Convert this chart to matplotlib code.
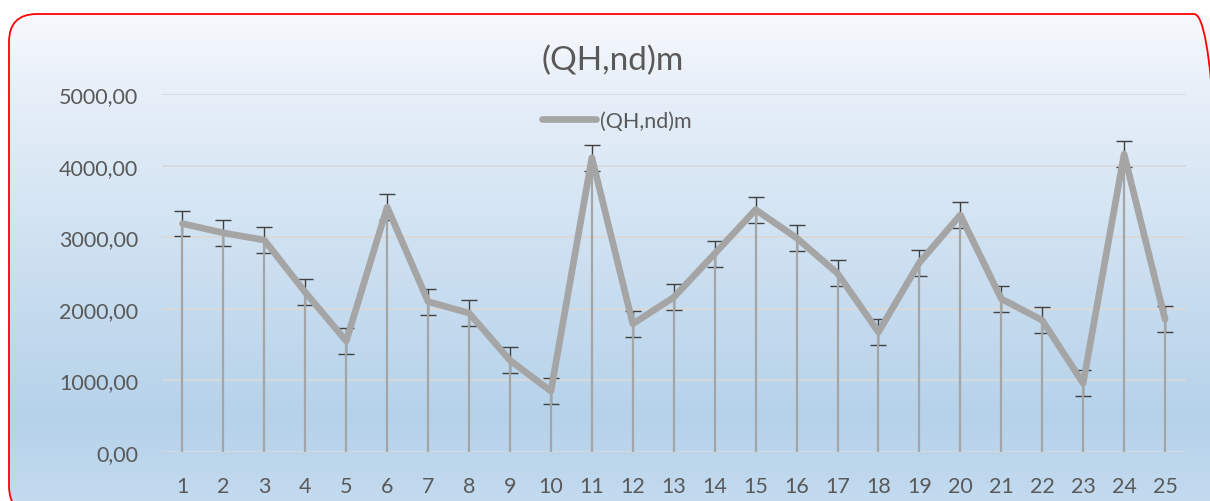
import numpy as np
import matplotlib
matplotlib.use("Agg")
import matplotlib.pyplot as plt
from matplotlib.patches import FancyBboxPatch
from matplotlib.colors import LinearSegmentedColormap

# ---------------------------------------------------------------- data
categories = list(range(1, 25 + 1))
qh_nd_m = [3190, 3060, 2960, 2230, 1550, 3420, 2100, 1940, 1280, 850,
           4110, 1790, 2160, 2770, 3385, 2990, 2495, 1675, 2645, 3310,
           2140, 1840, 960, 4160, 1855]
err = [180] * 25
y_ticks = [0, 1000, 2000, 3000, 4000, 5000]
y_labels = ["0,00", "1000,00", "2000,00", "3000,00", "4000,00", "5000,00"]
title = "(QH,nd)m"

# ---------------------------------------------------------------- figure
W, H = 1210, 502
fig = plt.figure(figsize=(W / 100, H / 100), dpi=100)
fig.patch.set_facecolor("white")
font = "Lato"
txt = "#595959"
gray = "#a5a5a5"

# background panel (rounded, gradient, red border), in pixel coords
bg = fig.add_axes([0, 0, 1, 1], zorder=0)
bg.set_xlim(0, W)
bg.set_ylim(0, H)
bg.axis("off")
x0, y0, x1, y1 = 9, H - 515, 1222, H - 15
panel = FancyBboxPatch((x0, y0), x1 - x0, y1 - y0,
                       boxstyle="round,pad=0,rounding_size=28",
                       facecolor="none", edgecolor="#ff0000", linewidth=1.3, zorder=3)
bg.add_patch(panel)
cmap = LinearSegmentedColormap.from_list(
    "bg", [(0.0, "#f7f9fd"), (0.17, "#e6eef8"), (0.37, "#d6e6f4"),
           (0.57, "#c7dcef"), (0.81, "#b5d2ea"), (1.0, "#c6dcf0")])
grad = np.linspace(0, 1, 256).reshape(-1, 1)
im = bg.imshow(grad, cmap=cmap, aspect="auto", extent=(x0, x1, y0, y1),
               origin="upper", zorder=1)
clip = FancyBboxPatch((x0, y0), x1 - x0, y1 - y0,
                      boxstyle="round,pad=0,rounding_size=28",
                      facecolor="none", edgecolor="none", transform=bg.transData)
im.set_clip_path(clip)

# ---------------------------------------------------------------- main axes
ax = fig.add_axes([162 / W, (H - 453) / H, (1185.5 - 162) / W, (453 - 95) / H], zorder=1)
ax.patch.set_alpha(0)
ax.set_xlim(0.5, 25.5)
ax.set_ylim(0, 5000)
for s in ax.spines.values():
    s.set_visible(False)
ax.set_yticks(y_ticks)
ax.set_yticklabels(y_labels)
ax.set_xticks(categories)
ax.set_xticklabels([str(c) for c in categories])
ax.tick_params(axis="both", length=0, labelcolor=txt, labelsize=15.5)
ax.tick_params(axis="y", pad=17)
ax.tick_params(axis="x", pad=17)
for lab in ax.get_xticklabels() + ax.get_yticklabels():
    lab.set_fontfamily(font)
ax.grid(axis="y", color="#d9d9d9", linewidth=1.3, zorder=0)
ax.set_axisbelow(True)

# error bars, drop lines, main line
ax.errorbar(categories, qh_nd_m, yerr=err, fmt="none", ecolor="#404040",
            elinewidth=1.0, capsize=6, capthick=1.0, zorder=2)
ax.vlines(categories, 0, qh_nd_m, colors=gray, linewidth=1.6, zorder=3)
ax.plot(categories, qh_nd_m, color=gray, linewidth=4.8, solid_joinstyle="round",
        solid_capstyle="round", zorder=4, label=title)

fig.text(613 / W, (H - 61) / H, title, ha="center", va="center",
         fontsize=24, color=txt, fontfamily=font)

leg = ax.legend(loc="center", bbox_to_anchor=(616.5 / W, (H - 122) / H),
                bbox_transform=fig.transFigure, frameon=False,
                handlelength=2.5, handletextpad=0.18, borderpad=0,
                prop={"family": font, "size": 15.5})
for t in leg.get_texts():
    t.set_color(txt)

fig.savefig("out.png", dpi=100)
